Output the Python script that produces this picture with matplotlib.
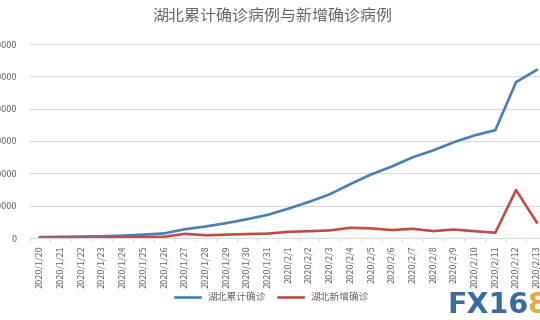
import matplotlib
matplotlib.use("Agg")
import matplotlib.pyplot as plt
import numpy as np

plt.rcParams['font.family'] = ['Noto Sans CJK SC', 'DejaVu Sans']

dates = ['2020/1/20', '2020/1/21', '2020/1/22', '2020/1/23', '2020/1/24', '2020/1/25',
         '2020/1/26', '2020/1/27', '2020/1/28', '2020/1/29', '2020/1/30', '2020/1/31',
         '2020/2/1', '2020/2/2', '2020/2/3', '2020/2/4', '2020/2/5', '2020/2/6',
         '2020/2/7', '2020/2/8', '2020/2/9', '2020/2/10', '2020/2/11', '2020/2/12',
         '2020/2/13']
cumulative = [270, 375, 444, 549, 729, 1052, 1423, 2714, 3554, 4586, 5806, 7153,
              9074, 11177, 13522, 16678, 19665, 22112, 24953, 27100, 29631, 31728,
              33366, 48206, 51986]
new_cases = [72, 105, 69, 105, 180, 323, 371, 1291, 840, 1032, 1220, 1347,
             1921, 2103, 2345, 3156, 2987, 2447, 2841, 2147, 2618, 2097,
             1638, 14840, 4823]
yticks = [0, 10000, 20000, 30000, 40000, 50000, 60000]

W, H = 540, 320
fig = plt.figure(figsize=(W / 100, H / 100), dpi=100)
ax = fig.add_axes([29.6 / W, (H - 238) / H, 517.5 / W, 194 / H])

x = np.arange(len(dates))
ax.plot(x, cumulative, color='#4a7ebb', lw=1.9, label='湖北累计确诊')
ax.plot(x, new_cases, color='#be4b48', lw=1.9, label='湖北新增确诊')

ax.set_xlim(-0.5, len(dates) - 0.5)
ax.set_ylim(0, 60000)
ax.set_yticks(yticks)
ax.set_yticklabels([str(v) for v in yticks])
ax.set_xticks(x)
ax.set_xticklabels(dates, rotation=90)
ax.set_xticks(np.arange(-0.5, len(dates), 1), minor=True)
ax.tick_params(axis='y', length=0, pad=9, labelsize=6.5, labelcolor='#666666')
ax.tick_params(axis='x', which='major', length=0, pad=5, labelsize=6.5, labelcolor='#666666')
ax.tick_params(axis='x', which='minor', length=3, color='#d9d9d9')
ax.grid(axis='y', color='#d9d9d9', lw=0.8)
ax.set_axisbelow(True)
for s in ['top', 'right', 'left']:
    ax.spines[s].set_visible(False)
ax.spines['bottom'].set_color('#d9d9d9')

fig.text(272 / W, 1 - 17 / H, '湖北累计确诊病例与新增确诊病例', ha='center', va='center',
         fontsize=11.5, color='#666666')
fig.legend(loc='center', bbox_to_anchor=(272 / W, 1 - 297 / H), ncol=2, frameon=False,
           fontsize=7, handlelength=2.6, columnspacing=1.2, labelcolor='#666666')

fig.text(447 / W, 1 - 305 / H, 'FX16', ha='left', va='center', fontsize=20.5,
         fontweight='bold', color='#3a6c9e', family='DejaVu Sans')
fig.text(527 / W, 1 - 305 / H, '8', ha='left', va='center', fontsize=20.5,
         fontweight='bold', color='#e3ab3a', family='DejaVu Sans')

fig.savefig('out.png', dpi=100)
